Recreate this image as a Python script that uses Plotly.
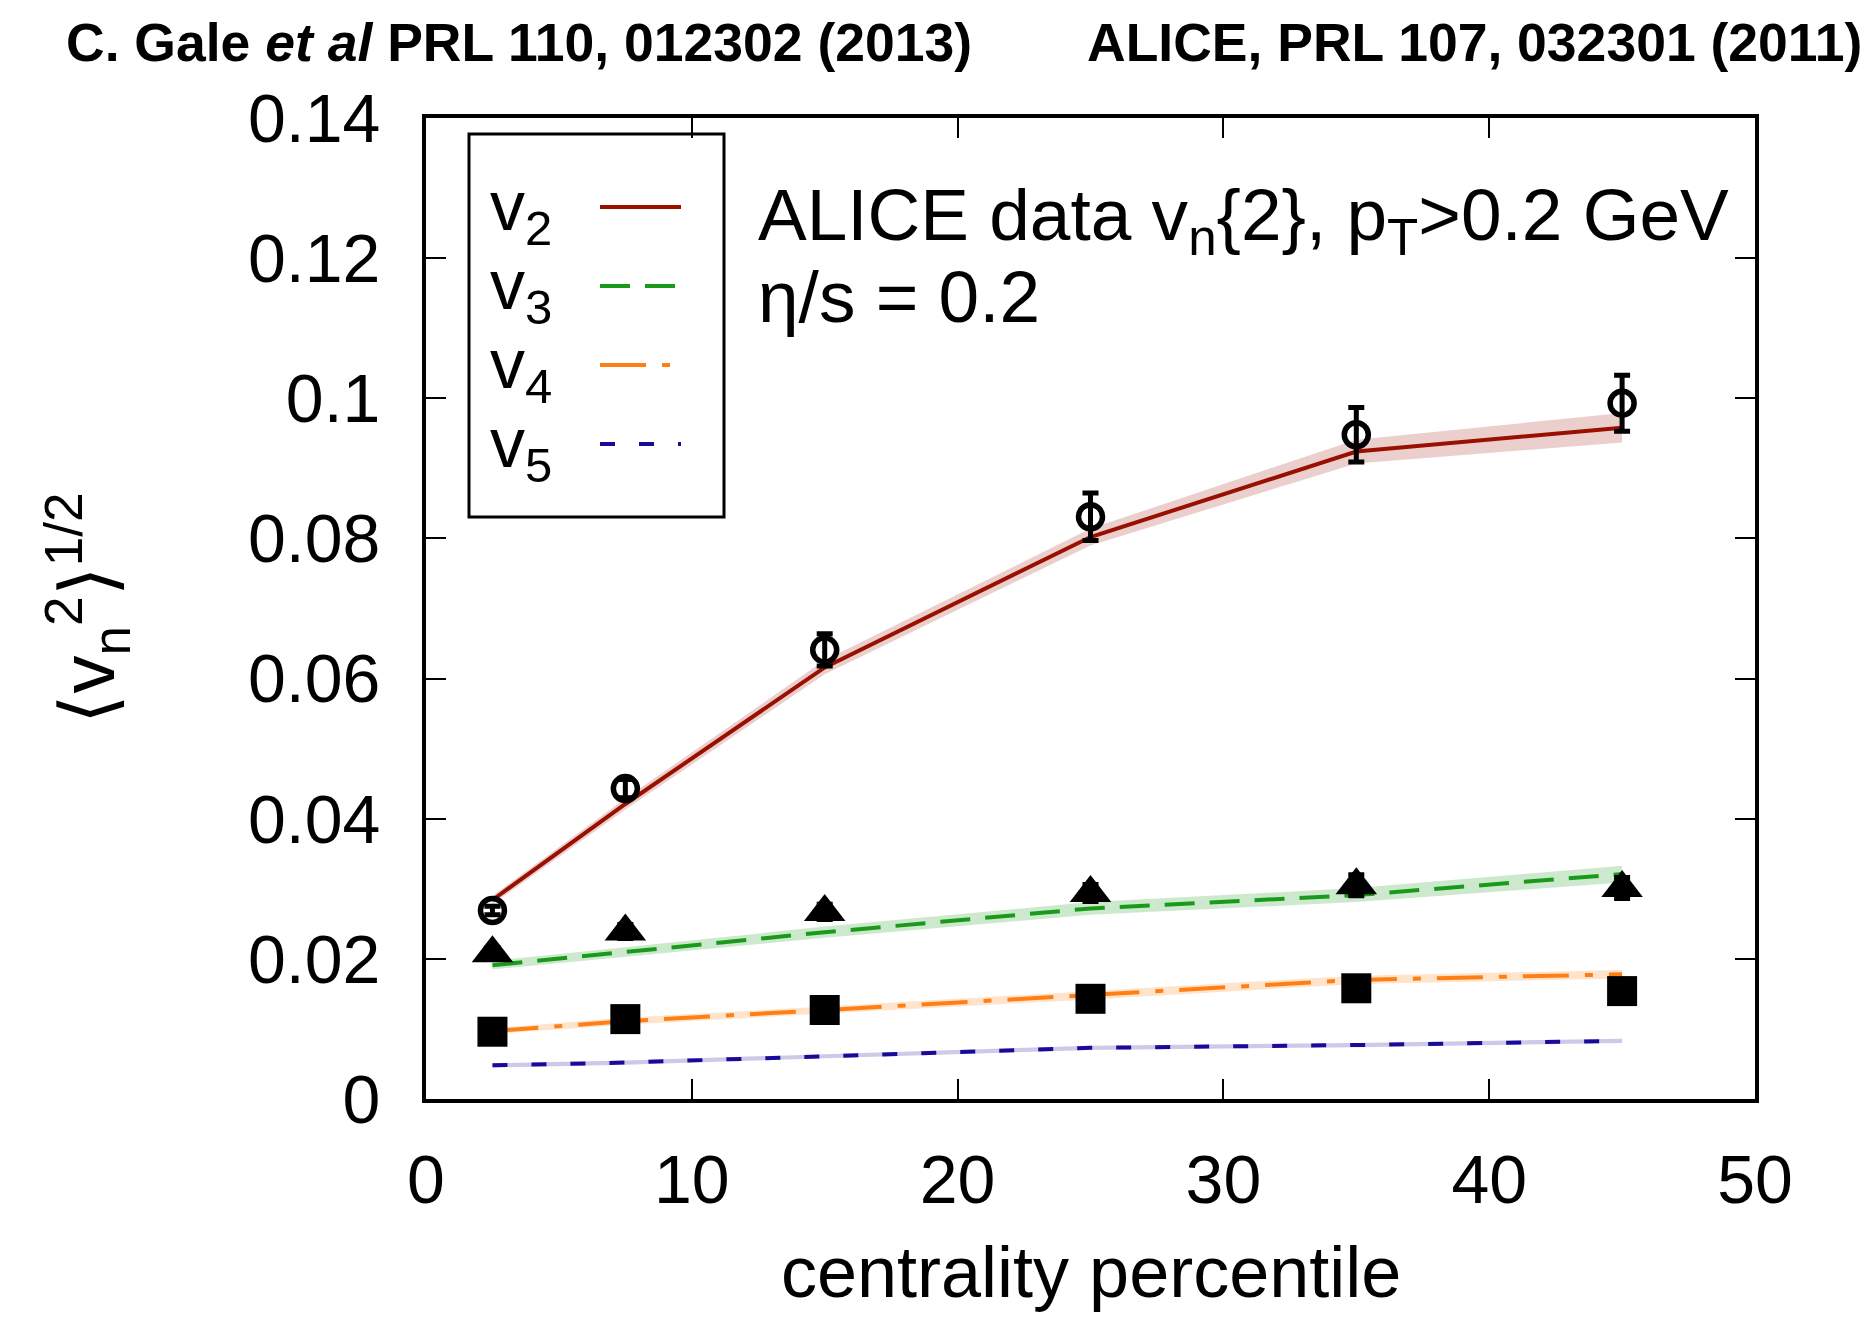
import plotly.graph_objects as go

# ---------------- data ----------------
centrality = [2.5, 7.5, 15, 25, 35, 45]

# ALICE data v_n{2}
v2_data = [0.0269, 0.0443, 0.0641, 0.0831, 0.0948, 0.0993]
v2_data_err = [0.0006, 0.0013, 0.0023, 0.0034, 0.0039, 0.0040]
v3_data = [0.0208, 0.0239, 0.0267, 0.0294, 0.0305, 0.0301]
v3_data_err = [0.0008, 0.0010, 0.0011, 0.0012, 0.0015, 0.0015]
v4_data = [0.0096, 0.0114, 0.0127, 0.0143, 0.0158, 0.0154]
v4_data_err = [0.0004, 0.0004, 0.0005, 0.0005, 0.0006, 0.0006]

# hydro model, eta/s = 0.2
v2_model = [0.0284, 0.0421, 0.0616, 0.0802, 0.0924, 0.0958]
v2_band = [0.0006, 0.0008, 0.0010, 0.0012, 0.0017, 0.0021]
v3_model = [0.0191, 0.0210, 0.0238, 0.0272, 0.0291, 0.0321]
v3_band = [0.0006, 0.0007, 0.0008, 0.0009, 0.0010, 0.0012]
v4_model = [0.0097, 0.0111, 0.0127, 0.0148, 0.0170, 0.0178]
v4_band = [0.0004, 0.0005, 0.0005, 0.0006, 0.0006, 0.0006]
v5_model = [0.0048, 0.0052, 0.0061, 0.0073, 0.0077, 0.0083]
v5_band = [0.0003, 0.0003, 0.0003, 0.0003, 0.0003, 0.0003]

series_names = ["v<sub>2</sub>", "v<sub>3</sub>", "v<sub>4</sub>", "v<sub>5</sub>"]
x_ticks = [0, 10, 20, 30, 40, 50]
y_ticks = [0, 0.02, 0.04, 0.06, 0.08, 0.1, 0.12, 0.14]
y_tick_labels = ["0", "0.02", "0.04", "0.06", "0.08", "0.1", "0.12", "0.14"]

# ---------------- styles ----------------
FONT = "Liberation Sans"
line_colors = ["#991000", "#1a9a1a", "#ff7f14", "#1a0a99"]
band_colors = ["rgba(153,16,0,0.20)", "rgba(26,154,26,0.22)",
               "rgba(255,127,20,0.22)", "rgba(26,10,153,0.22)"]
dashes = ["solid", "30px,15px", "46px,16px,8px,16px", "15px,24px"]

models = [v2_model, v3_model, v4_model, v5_model]
bands = [v2_band, v3_band, v4_band, v5_band]

fig = go.Figure()

# bands
for m, b, bc in zip(models, bands, band_colors):
    lo = [a - e for a, e in zip(m, b)]
    hi = [a + e for a, e in zip(m, b)]
    fig.add_trace(go.Scatter(x=centrality, y=lo, mode="lines",
                             line=dict(width=0), showlegend=False, hoverinfo="skip"))
    fig.add_trace(go.Scatter(x=centrality, y=hi, mode="lines", fill="tonexty",
                             fillcolor=bc, line=dict(width=0),
                             showlegend=False, hoverinfo="skip"))

# model lines
for m, c, d in zip(models, line_colors, dashes):
    fig.add_trace(go.Scatter(x=centrality, y=m, mode="lines",
                             line=dict(color=c, width=4, dash=d),
                             showlegend=False))

# data points
fig.add_trace(go.Scatter(
    x=centrality, y=v2_data, mode="markers",
    marker=dict(symbol="circle-open", size=24, color="black", line=dict(width=5.5, color="black")),
    error_y=dict(type="data", array=v2_data_err, color="black", thickness=5, width=8),
    showlegend=False))
fig.add_trace(go.Scatter(
    x=centrality, y=v3_data, mode="markers",
    marker=dict(symbol="triangle-up", size=36, color="black", line=dict(width=0)),
    error_y=dict(type="data", array=v3_data_err, color="black", thickness=5, width=8),
    showlegend=False))
fig.add_trace(go.Scatter(
    x=centrality, y=v4_data, mode="markers",
    marker=dict(symbol="square", size=30, color="black", line=dict(width=0)),
    error_y=dict(type="data", array=v4_data_err, color="black", thickness=5, width=8),
    showlegend=False))

# ---------------- manual legend & texts ----------------
L, R, T, B = 426, 1755, 118, 1099
W, H = R - L, B - T
def px(x):
    return (x - L) / W
def py(y):
    return (B - y) / H

shapes = [dict(type="rect", xref="paper", yref="paper",
               x0=px(469), x1=px(724), y0=py(517), y1=py(134),
               line=dict(color="black", width=3), fillcolor="white", layer="below")]
annotations = []
leg_y = [207, 286, 365, 444]
for name, c, d, yy in zip(series_names, line_colors, dashes, leg_y):
    shapes.append(dict(type="line", xref="paper", yref="paper",
                       x0=px(600), x1=px(681), y0=py(yy), y1=py(yy),
                       line=dict(color=c, width=4, dash=d)))
    annotations.append(dict(text=name, xref="paper", yref="paper",
                            x=px(488), y=py(yy + 4), xanchor="left", yanchor="middle",
                            showarrow=False, font=dict(family=FONT, size=70, color="black")))

annotations += [
    dict(text="ALICE data v<sub>n</sub>{2}, p<sub>T</sub>>0.2 GeV", xref="paper", yref="paper",
         x=px(756), y=py(220), xanchor="left", yanchor="middle", showarrow=False,
         font=dict(family=FONT, size=73, color="black")),
    dict(text="η/s = 0.2", xref="paper", yref="paper",
         x=px(756), y=py(296), xanchor="left", yanchor="middle", showarrow=False,
         font=dict(family=FONT, size=73, color="black")),
    dict(text="<b>C. Gale <i>et al</i> PRL 110, 012302 (2013)</b>", xref="paper", yref="paper",
         x=px(64), y=py(42), xanchor="left", yanchor="middle", showarrow=False,
         font=dict(family=FONT, size=53.5, color="black")),
    dict(text="<b>ALICE, PRL 107, 032301 (2011)</b>", xref="paper", yref="paper",
         x=px(1864), y=py(42), xanchor="right", yanchor="middle", showarrow=False,
         font=dict(family=FONT, size=53.5, color="black")),
    dict(text="centrality percentile", xref="paper", yref="paper",
         x=0.5, y=py(1272), xanchor="center", yanchor="middle", showarrow=False,
         font=dict(family=FONT, size=72, color="black")),
    dict(text="⟨v<sub>n</sub><sup>2</sup>⟩<sup>1/2</sup>", xref="paper", yref="paper",
         x=px(88), y=0.5, xanchor="center", yanchor="middle", showarrow=False,
         textangle=-90, font=dict(family=FONT, size=76, color="black")),
]

fig.update_layout(
    width=1876, height=1318,
    margin=dict(l=L, r=1876 - R, t=T, b=1318 - B),
    paper_bgcolor="white", plot_bgcolor="white",
    font=dict(family=FONT, size=68, color="black"),
    shapes=shapes, annotations=annotations,
    xaxis=dict(range=[0, 50], tickvals=x_ticks, ticks="inside", ticklen=20, tickwidth=2,
               tickcolor="black", showline=True, linecolor="black", linewidth=4,
               mirror="ticks", showgrid=False, zeroline=False, automargin=False,
               tickfont=dict(family=FONT, size=68), ticklabelstandoff=18),
    yaxis=dict(range=[0, 0.14], tickvals=y_ticks, ticktext=y_tick_labels, ticks="inside",
               ticklen=20, tickwidth=2, tickcolor="black", showline=True, linecolor="black",
               linewidth=4, mirror="ticks", showgrid=False, zeroline=False, automargin=False,
               tickfont=dict(family=FONT, size=68), ticklabelstandoff=28),
)

fig.write_html("out.html")
